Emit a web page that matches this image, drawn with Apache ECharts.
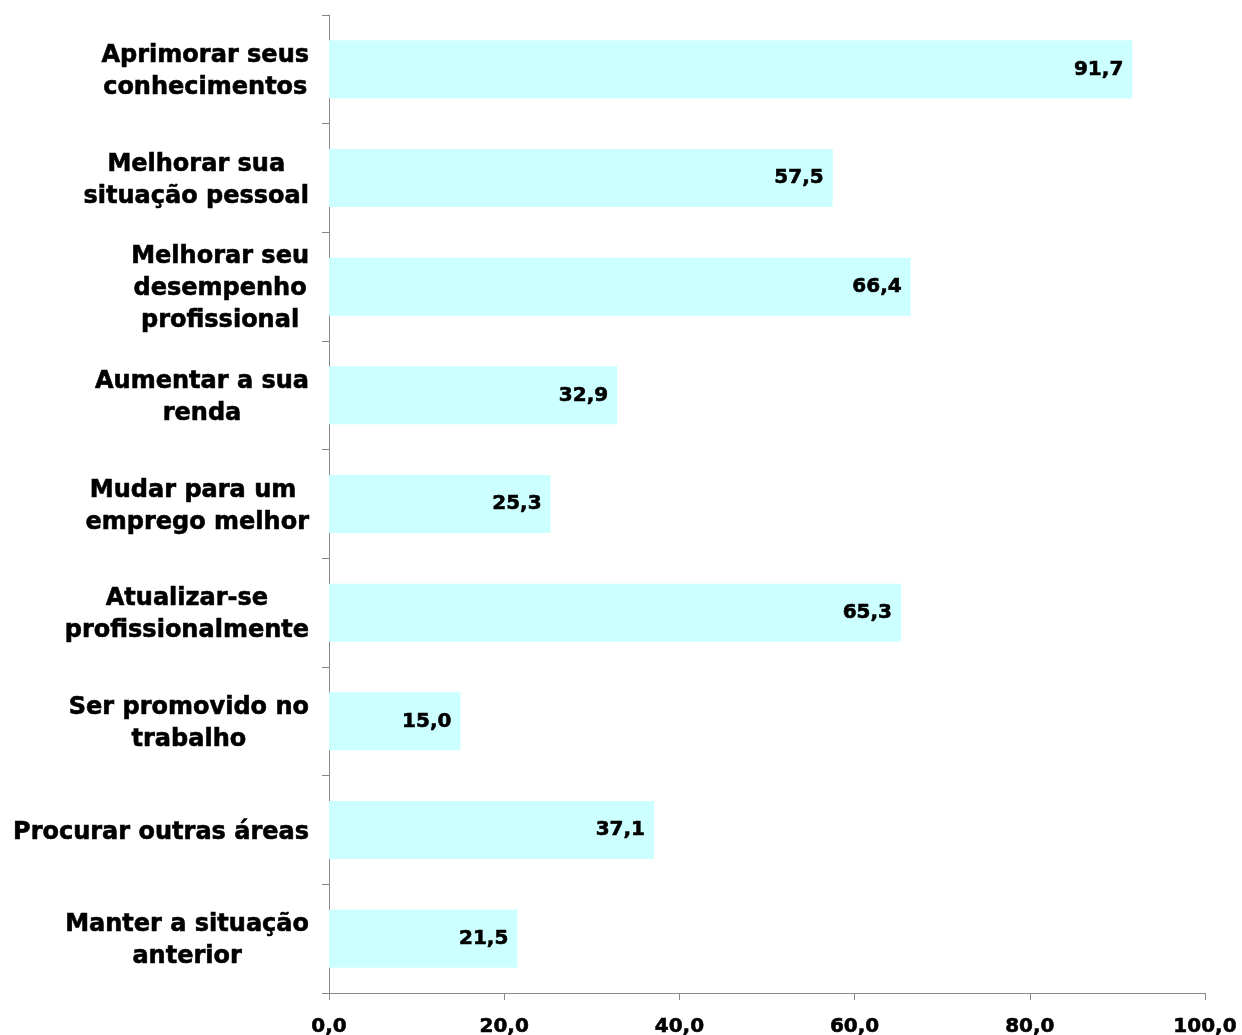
<!DOCTYPE html>
<html>
<head>
<meta charset="utf-8">
<script src="https://cdn.jsdelivr.net/npm/echarts@6/dist/echarts.min.js"></script>
<style>
  html, body { margin: 0; padding: 0; background: #fff; }
  #chart { width: 1242px; height: 1035px; }
</style>
</head>
<body>
<div id="chart"></div>
<script>
// categories top to bottom (each line of a label is one entry)
const categories = [
  ["Aprimorar seus", "conhecimentos"],
  ["Melhorar sua", "situação pessoal"],
  ["Melhorar seu", "desempenho", "profissional"],
  ["Aumentar a sua", "renda"],
  ["Mudar para um ", "emprego melhor"],
  ["Atualizar-se", "profissionalmente"],
  ["Ser promovido no", "trabalho"],
  ["Procurar outras áreas"],
  ["Manter a situação", "anterior"]
];
const values = [91.7, 57.5, 66.4, 32.9, 25.3, 65.3, 15.0, 37.1, 21.5];
const xTicks = [0, 20, 40, 60, 80, 100];

const fmt = v => v.toFixed(1).replace(".", ",");
const FONT = "DejaVu Sans";
// a thin outline in the text colour makes the bold read closer to the original
const heavy = { textBorderColor: "#000", textBorderWidth: 0.6 };

const chart = echarts.init(document.getElementById("chart"));

const option = {
  backgroundColor: "#fff",
  animation: false,
  grid: { left: 329, right: 37, top: 15, bottom: 42, outerBoundsMode: "none" },
  xAxis: {
    type: "value",
    min: xTicks[0],
    max: xTicks[xTicks.length - 1],
    interval: 20,
    splitLine: { show: false },
    axisLine: { show: true, lineStyle: { color: "#888", width: 1 } },
    axisTick: { show: true, length: 7, lineStyle: { color: "#888" } },
    axisLabel: Object.assign({
      margin: 24,
      fontFamily: FONT,
      fontWeight: "bold",
      fontSize: 20,
      color: "#000",
      formatter: v => fmt(v)
    }, heavy)
  },
  yAxis: {
    type: "category",
    inverse: true,
    data: categories.map(c => c.join("\n")),
    axisLine: { show: true, lineStyle: { color: "#888", width: 1 } },
    axisTick: { show: true, length: 7, lineStyle: { color: "#888" } },
    axisLabel: {
      margin: 20,
      align: "right",
      padding: [5, 0, 0, 0],
      formatter: v => v.split("\n").map(l => "{c|" + l + "}").join("\n"),
      rich: {
        c: Object.assign({
          align: "center",
          fontFamily: FONT,
          fontWeight: "bold",
          fontSize: 24,
          lineHeight: 32,
          color: "#000"
        }, heavy)
      }
    }
  },
  series: [{
    type: "bar",
    data: values,
    barWidth: 58,
    itemStyle: { color: "#CCFFFF" },
    label: Object.assign({
      show: true,
      position: "insideRight",
      distance: 9,
      fontFamily: FONT,
      fontWeight: "bold",
      fontSize: 20,
      color: "#000",
      formatter: p => fmt(p.value)
    }, heavy)
  }]
};

chart.setOption(option);
</script>
</body>
</html>
